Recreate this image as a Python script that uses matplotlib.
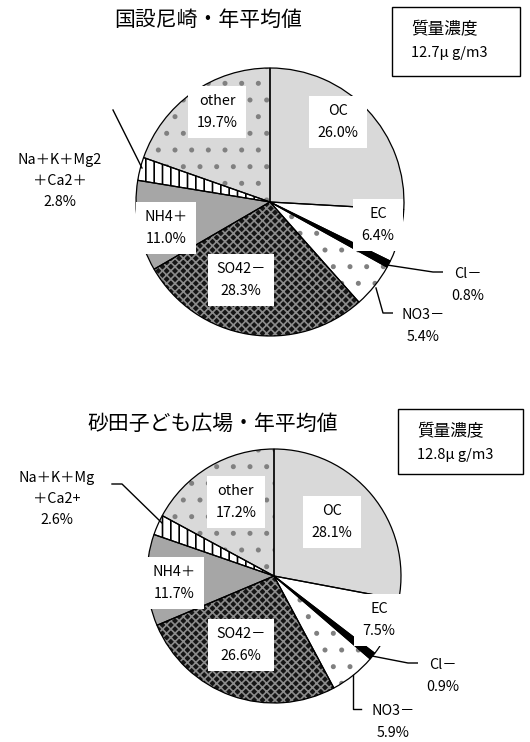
import numpy as np
import matplotlib.pyplot as plt
from matplotlib.patches import Rectangle

plt.rcParams['font.family'] = ['Noto Sans CJK JP', 'DejaVu Sans']
plt.rcParams['hatch.linewidth'] = 1.2

# data
components = ["OC", "EC", "Cl－", "NO3－", "SO42－", "NH4＋", "Na＋K＋Mg", "other"]
amagasaki_share = [26.0, 6.4, 0.8, 5.4, 28.3, 11.0, 2.8, 19.7]
sunada_share = [28.1, 7.5, 0.9, 5.9, 26.6, 11.7, 2.6, 17.2]
amagasaki_labels = ["OC\n26.0%", "EC\n6.4%", "Cl－\n0.8%", "NO3－\n5.4%", "SO42－\n28.3%",
                    "NH4＋\n11.0%", "Na＋K＋Mg2\n＋Ca2＋\n2.8%", "other\n19.7%"]
sunada_labels = ["OC\n28.1%", "EC\n7.5%", "Cl－\n0.9%", "NO3－\n5.9%", "SO42－\n26.6%",
                 "NH4＋\n11.7%", "Na＋K＋Mg\n＋Ca2+\n2.6%", "other\n17.2%"]
titles = ["国設尼崎・年平均値", "砂田子ども広場・年平均値"]
mass_conc = ["12.7μ g/m3", "12.8μ g/m3"]

# fill, hatch, hatch colour per component
styles = [("#d9d9d9", None, None),
          ("white", None, None),
          ("black", None, None),
          ("white", ".", "#808080"),
          ("#151515", "xxxx", "#8c8c8c"),
          ("#a6a6a6", None, None),
          ("white", "||", "black"),
          ("#d9d9d9", ".", "#808080")]

H = 742
fig = plt.figure(figsize=(5.3, 7.42), dpi=100)
ax = fig.add_axes([0, 0, 1, 1])


def draw_pie(values, center, radius):
    cx, cy = center[0], H - center[1]
    wedges, _ = ax.pie(values, center=(cx, cy), radius=radius, startangle=90,
                       counterclock=False, normalize=True)
    for w, (fc, hatch, hc) in zip(wedges, styles):
        w.set_facecolor(fc)
        w.set_linewidth(0)
        if hatch:
            w.set_hatch(hatch)
            w.set_edgecolor(hc)
    # outlines drawn on top
    ax.pie(values, center=(cx, cy), radius=radius, startangle=90,
           counterclock=False, normalize=True,
           wedgeprops=dict(fill=False, edgecolor="black", linewidth=0.9))


def put_label(text, x, y, box=True, size=10.3):
    kw = dict(ha="center", va="center", fontsize=size, linespacing=1.65, color="black", zorder=5)
    if box:
        kw["bbox"] = dict(boxstyle="square,pad=0.6", facecolor="white", edgecolor="none")
    ax.text(x, H - y, text, **kw)


def leader(xs, ys):
    ax.plot(xs, [H - y for y in ys], color="black", linewidth=1.0, zorder=4)


# top chart
draw_pie(amagasaki_share, (270, 202), 134)
top_pos = [(338, 122), (378, 225), (468, 285), (423, 326), (241, 280), (166, 228), (60, 181), (217, 112)]
for i, (lab, (x, y)) in enumerate(zip(amagasaki_labels, top_pos)):
    put_label(lab, x, y, box=(i != 6))
leader([113, 142], [110, 168])
leader([387, 433, 443], [265, 272, 272])
leader([376, 383, 395], [288, 313, 313])

# bottom chart
draw_pie(sunada_share, (274, 576), 127)
bot_pos = [(332, 522), (379, 620), (443, 676), (393, 722), (241, 645), (174, 583), (57, 499), (236, 502)]
for i, (lab, (x, y)) in enumerate(zip(sunada_labels, bot_pos)):
    put_label(lab, x, y, box=(i != 6))
leader([112, 122, 162], [484, 484, 523])
leader([372, 408, 418], [656, 663, 663])
leader([353, 353, 361], [675, 709, 709])

# titles
ax.text(208, H - 20, titles[0], ha="center", va="center", fontsize=15)
ax.text(213, H - 424, titles[1], ha="center", va="center", fontsize=15)

# mass concentration boxes
for (x0, y0, x1, y1), conc in zip([(392, 7, 520, 76), (398, 409, 523, 474)], mass_conc):
    ax.add_patch(Rectangle((x0, H - y1), x1 - x0, y1 - y0, facecolor="white",
                           edgecolor="black", linewidth=1.0, zorder=3))
    ax.text(x0 + 19, H - (y0 + 23), "質量濃度", ha="left", va="center", fontsize=12, zorder=4)
    ax.text(x0 + 19, H - (y0 + 46), conc, ha="left", va="center", fontsize=10.5, zorder=4)

ax.set_xlim(0, 530)
ax.set_ylim(0, H)
ax.set_aspect("equal")
ax.axis("off")

fig.savefig("out.png", dpi=100)
